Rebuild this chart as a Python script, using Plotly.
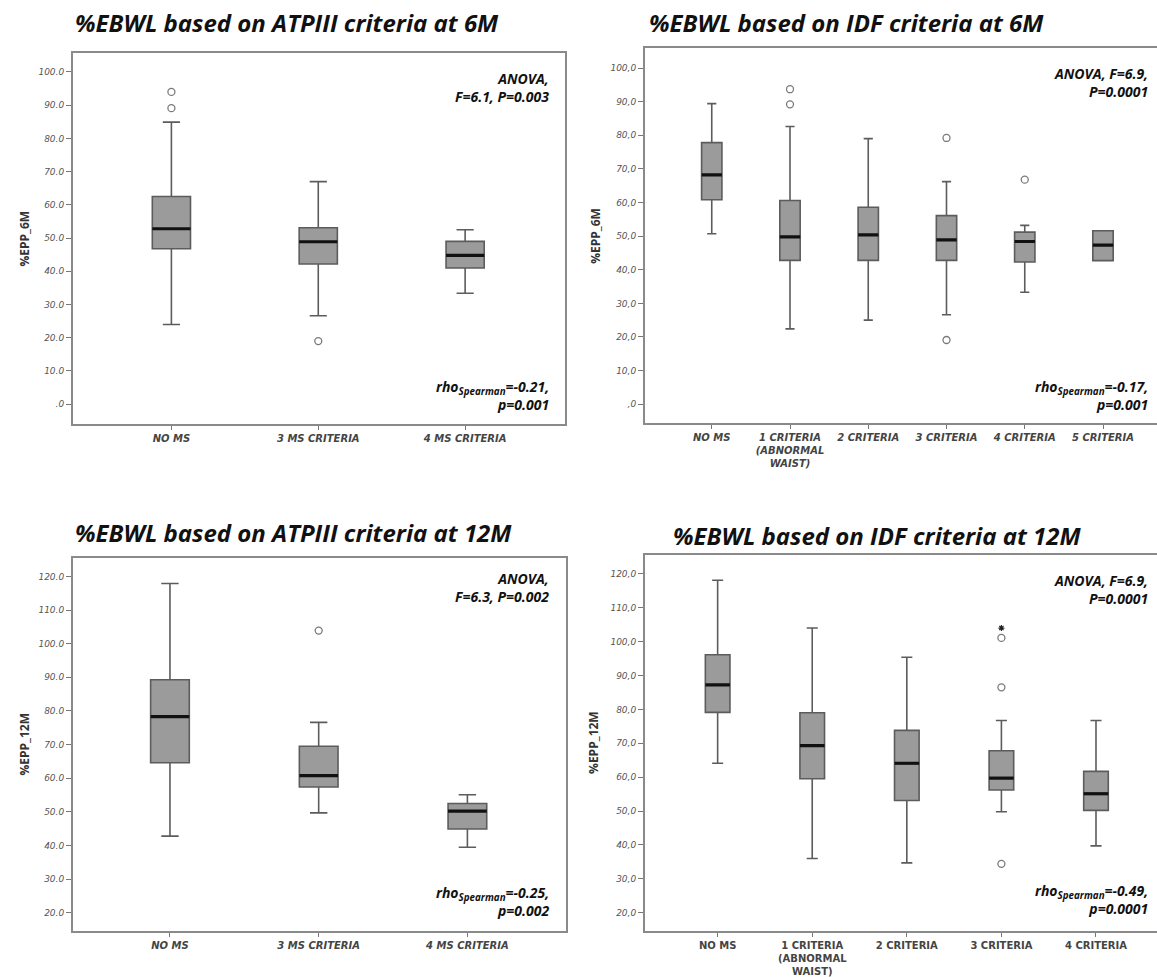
import plotly.graph_objects as go

W, H = 1157, 977

# ---------------- DATA ----------------
# Panel A: %EBWL ATPIII 6M
a_cats = ["NO MS", "3 MS CRITERIA", "4 MS CRITERIA"]
a_low = [24.0, 26.6, 33.4]
a_q1 = [46.8, 42.2, 41.0]
a_med = [52.8, 48.9, 44.8]
a_q3 = [62.5, 53.1, 49.0]
a_high = [84.9, 67.0, 52.5]
a_out_x = [0, 0, 1]
a_out_y = [94.0, 89.1, 19.0]

# Panel B: %EBWL IDF 6M
b_cats = ["NO MS", "1 CRITERIA<br>(ABNORMAL<br>WAIST)", "2 CRITERIA", "3 CRITERIA", "4 CRITERIA", "5 CRITERIA"]
b_low = [50.7, 22.4, 25.0, 26.6, 33.3, 42.7]
b_q1 = [60.8, 42.8, 42.8, 42.8, 42.3, 42.7]
b_med = [68.2, 49.8, 50.4, 48.9, 48.4, 47.3]
b_q3 = [77.8, 60.6, 58.6, 56.1, 51.2, 51.6]
b_high = [89.4, 82.6, 79.0, 66.2, 53.2, 51.6]
b_out_x = [1, 1, 3, 3, 4]
b_out_y = [93.7, 89.2, 79.2, 19.1, 66.8]

# Panel C: %EBWL ATPIII 12M
c_cats = ["NO MS", "3 MS CRITERIA", "4 MS CRITERIA"]
c_low = [42.8, 49.7, 39.5]
c_q1 = [64.6, 57.4, 44.9]
c_med = [78.3, 60.8, 50.2]
c_q3 = [89.3, 69.5, 52.5]
c_high = [117.9, 76.6, 55.1]
c_out_x = [1]
c_out_y = [103.9]

# Panel D: %EBWL IDF 12M
d_cats = ["NO MS", "1 CRITERIA<br>(ABNORMAL<br>WAIST)", "2 CRITERIA", "3 CRITERIA", "4 CRITERIA"]
d_low = [64.1, 36.0, 34.7, 49.8, 39.7]
d_q1 = [79.1, 59.5, 53.1, 56.2, 50.2]
d_med = [87.2, 69.3, 64.1, 59.7, 55.1]
d_q3 = [96.1, 79.0, 73.8, 67.8, 61.7]
d_high = [118.1, 104.0, 95.4, 76.7, 76.7]
d_out_x = [3, 3, 3]
d_out_y = [101.1, 86.5, 34.4]
d_ext_x = [3]
d_ext_y = [104.0]

titles = ["%EBWL based on ATPIII criteria at 6M", "%EBWL based on IDF criteria at 6M",
          "%EBWL based on ATPIII criteria at 12M", "%EBWL based on IDF criteria at 12M"]
ytitles = ["%EPP_6M", "%EPP_6M", "%EPP_12M", "%EPP_12M"]
anova = ["ANOVA,<br>F=6.1, P=0.003", "ANOVA, F=6.9,<br>P=0.0001",
         "ANOVA,<br>F=6.3, P=0.002", "ANOVA, F=6.9,<br>P=0.0001"]
rho = ["rho<sub>Spearman</sub>=-0.21,<br>p=0.001", "rho<sub>Spearman</sub>=-0.17,<br>p=0.001",
       "rho<sub>Spearman</sub>=-0.25,<br>p=0.002", "rho<sub>Spearman</sub>=-0.49,<br>p=0.0001"]

# ---------------- LAYOUT GEOMETRY (pixels) ----------------
panels = [
    dict(cats=a_cats, low=a_low, q1=a_q1, med=a_med, q3=a_q3, high=a_high, ox=a_out_x, oy=a_out_y,
         px=(73, 565), py=(53, 427), xr=[-0.67, 2.68], yr=[-6.07, 105.8],
         tv=list(range(0, 101, 10)), sep=".", ax="", xstyle="italic", rmirror=True),
    dict(cats=b_cats, low=b_low, q1=b_q1, med=b_med, q3=b_q3, high=b_high, ox=b_out_x, oy=b_out_y,
         px=(645, 1157), py=(48.5, 426), xr=[-0.853, 5.69], yr=[-5.7, 105.9],
         tv=list(range(0, 101, 10)), sep=",", ax="2", xstyle="italic", rmirror=False),
    dict(cats=c_cats, low=c_low, q1=c_q1, med=c_med, q3=c_q3, high=c_high, ox=c_out_x, oy=c_out_y,
         px=(73, 566), py=(561.7, 936.7), xr=[-0.652, 2.663], yr=[14.6, 125.4],
         tv=list(range(20, 121, 10)), sep=".", ax="3", xstyle="italic", rmirror=True),
    dict(cats=d_cats, low=d_low, q1=d_q1, med=d_med, q3=d_q3, high=d_high, ox=d_out_x, oy=d_out_y,
         px=(645, 1157), py=(558.3, 936.7), xr=[-0.768, 4.645], yr=[14.6, 125.6],
         tv=list(range(20, 121, 10)), sep=",", ax="4", xstyle="normal", rmirror=False),
]

BOXW = 0.26
TICKFONT = "DejaVu Sans, sans-serif"
fig = go.Figure()
layout = dict(width=W, height=H, margin=dict(l=0, r=0, t=0, b=0),
              paper_bgcolor="white", plot_bgcolor="white", showlegend=False,
              font=dict(family="Open Sans, DejaVu Sans, sans-serif"))
annotations = []

def fmt(v, sep):
    s = f"{v:.1f}".replace(".", sep)
    if v == 0:
        s = sep + "0"
    return s

for i, p in enumerate(panels):
    xa = "x" + p["ax"]
    ya = "y" + p["ax"]
    n = len(p["cats"])
    xs = list(range(n))
    fig.add_trace(go.Box(
        x=xs, q1=p["q1"], median=p["med"], q3=p["q3"],
        lowerfence=p["low"], upperfence=p["high"],
        width=BOXW, whiskerwidth=0.45, boxpoints=False,
        fillcolor="#9b9b9b", line=dict(color="#5c5c5c", width=1.6),
        xaxis=xa, yaxis=ya, hoverinfo="skip"))
    # thick median bars
    mx, my = [], []
    for k in xs:
        mx += [k - BOXW / 2, k + BOXW / 2, None]
        my += [p["med"][k], p["med"][k], None]
    fig.add_trace(go.Scatter(x=mx, y=my, mode="lines", line=dict(color="#111111", width=3.2),
                             xaxis=xa, yaxis=ya, hoverinfo="skip"))
    fig.add_trace(go.Scatter(x=p["ox"], y=p["oy"], mode="markers",
                             marker=dict(symbol="circle-open", size=7, color="#7a7a7a", line=dict(width=1.3)),
                             xaxis=xa, yaxis=ya, hoverinfo="skip"))
    if i == 3:
        fig.add_trace(go.Scatter(x=d_ext_x, y=d_ext_y, mode="markers",
                                 marker=dict(symbol="asterisk-open", size=5, color="#222222", line=dict(width=1.2)),
                                 xaxis=xa, yaxis=ya, hoverinfo="skip"))
    x0, x1 = p["px"]
    y0, y1 = p["py"]
    key = "xaxis" + p["ax"]
    ykey = "yaxis" + p["ax"]
    layout[key] = dict(domain=[x0 / W, x1 / W], range=p["xr"], anchor=ya,
                       tickmode="array", tickvals=xs, ticktext=p["cats"],
                       ticks="outside", ticklen=4, tickcolor="#777777", tickwidth=1.2,
                       tickfont=dict(family=TICKFONT, size=10, color="#444444",
                                     style=p["xstyle"], weight="bold"),
                       showline=True, linecolor="#8a8a8a", linewidth=2, mirror=True,
                       showgrid=False, zeroline=False, fixedrange=True)
    layout[ykey] = dict(domain=[1 - y1 / H, 1 - y0 / H], range=p["yr"], anchor=xa,
                        tickmode="array", tickvals=p["tv"], ticktext=[fmt(v, p["sep"]) for v in p["tv"]],
                        ticks="outside", ticklen=5, tickcolor="#777777", tickwidth=1.2,
                        tickfont=dict(family=TICKFONT, size=9, color="#555555", style="italic"),
                        showline=True, linecolor="#8a8a8a", linewidth=2, mirror=p["rmirror"],
                        showgrid=False, zeroline=False, fixedrange=True)
    # title
    title_y = [23, 23, 536, 539][i]
    title_x = [73, 647, 73, 671][i]
    annotations.append(dict(text=titles[i], xref="paper", yref="paper",
                            x=title_x / W, y=1 - title_y / H, xanchor="left", yanchor="middle",
                            showarrow=False, font=dict(size=24, color="#111111", style="italic", weight="bold")))
    # y axis title
    yt_x = [25, 596, 25, 594][i]
    annotations.append(dict(text=ytitles[i], xref="paper", yref="paper",
                            x=yt_x / W, y=1 - (y0 + y1) / 2 / H, xanchor="center", yanchor="middle",
                            textangle=-90, showarrow=False,
                            font=dict(size=12, color="#333333", weight="bold")))
    # ANOVA text
    an_right = [551, 1150, 551, 1150][i]
    an_mid = [88, 83, 591, 593][i]
    annotations.append(dict(text=anova[i], xref="paper", yref="paper", align="right",
                            x=an_right / W, y=1 - an_mid / H, xanchor="right", yanchor="middle",
                            showarrow=False, font=dict(size=14, color="#111111", style="italic", weight="bold")))
    rho_mid = [398, 398, 907, 905][i]
    annotations.append(dict(text=rho[i], xref="paper", yref="paper", align="right",
                            x=an_right / W, y=1 - rho_mid / H, xanchor="right", yanchor="middle",
                            showarrow=False, font=dict(size=14, color="#111111", style="italic", weight="bold")))

layout["annotations"] = annotations
fig.update_layout(**layout)
fig.write_html("out.html")
